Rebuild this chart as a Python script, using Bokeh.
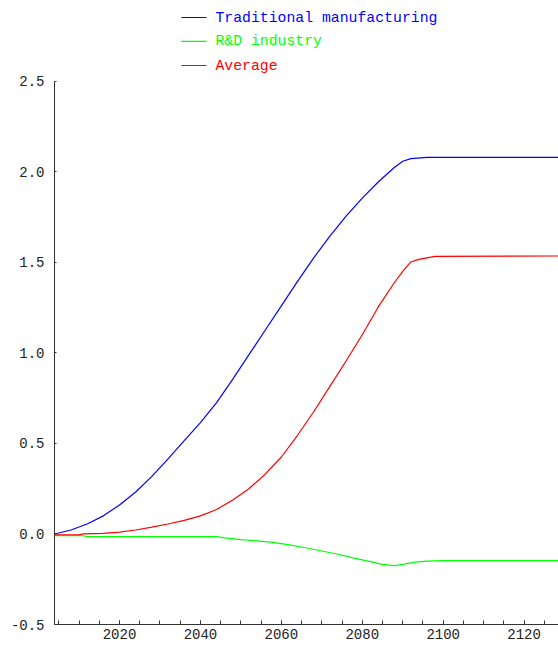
from bokeh.plotting import figure
from bokeh.models import Range1d, SingleIntervalTicker, FixedTicker, PrintfTickFormatter
from bokeh.core.properties import value
from bokeh.embed import file_html
from bokeh.resources import INLINE

# ---- data ----
trad_years = [2004, 2008, 2012, 2016, 2020, 2024, 2028, 2032, 2036, 2040, 2044, 2048,
              2052, 2056, 2060, 2064, 2068, 2072, 2076, 2080, 2084, 2088, 2090, 2092,
              2096, 2129]
trad_vals = [0.0, 0.022, 0.055, 0.1, 0.16, 0.232, 0.318, 0.415, 0.515, 0.615, 0.725, 0.855,
             0.99, 1.125, 1.26, 1.395, 1.525, 1.645, 1.755, 1.855, 1.945, 2.025, 2.058, 2.073,
             2.08, 2.08]

rd_years = [2004, 2011, 2012, 2044, 2046, 2050, 2054, 2058, 2062, 2066, 2070, 2074,
            2078, 2082, 2085, 2088, 2090, 2093, 2096, 2100, 2129]
rd_vals = [-0.01, -0.01, -0.015, -0.015, -0.022, -0.031, -0.038, -0.046, -0.06, -0.076,
           -0.094, -0.112, -0.133, -0.153, -0.168, -0.175, -0.168, -0.156, -0.15, -0.147,
           -0.147]

avg_years = [2004, 2010, 2011, 2016, 2020, 2024, 2028, 2032, 2036, 2040, 2044, 2048,
             2052, 2056, 2060, 2064, 2068, 2072, 2076, 2080, 2084, 2088, 2090, 2092,
             2094, 2098, 2129]
avg_vals = [-0.005, -0.005, 0.0, 0.003, 0.01, 0.022, 0.038, 0.055, 0.075, 0.1, 0.135, 0.188,
            0.25, 0.33, 0.425, 0.545, 0.675, 0.815, 0.955, 1.1, 1.255, 1.39, 1.45, 1.502,
            1.516, 1.533, 1.535]

series_names = ["Traditional manufacturing", "R&D industry", "Average"]
series_colors = ["#0000ff", "#00ff00", "#ff0000"]
y_ticks = [-0.5, 0.0, 0.5, 1.0, 1.5, 2.0, 2.5]

FONT = "Liberation Mono"

p = figure(width=558, height=646, output_backend="svg", toolbar_location=None,
           x_range=Range1d(2003.93, 2128.5), y_range=Range1d(-0.5, 2.946),
           min_border_left=54, min_border_right=0, min_border_top=0, min_border_bottom=22)
p.outline_line_color = None
p.xgrid.visible = False
p.ygrid.visible = False
p.background_fill_color = "white"
p.border_fill_color = "white"

# curves
p.line(trad_years, trad_vals, line_color=series_colors[0], line_width=1.2)
p.line(rd_years, rd_vals, line_color=series_colors[1], line_width=1.2)
p.line(avg_years, avg_vals, line_color=series_colors[2], line_width=1.2)

# legend (drawn manually so each label keeps its own colour)
leg_x0, leg_x1, leg_tx = 2035.3, 2041.5, 2043.7
leg_y = [2.852, 2.72, 2.587]
for name, col, yy in zip(series_names, series_colors, leg_y):
    p.segment(x0=[leg_x0], y0=[yy], x1=[leg_x1], y1=[yy], line_color=col, line_width=1.2)
    p.text(x=[leg_tx], y=[yy], text=[name], text_color=col,
           text_font=value(FONT), text_font_size="14.8px",
           text_baseline="middle", text_align="left")

# x axis
xa = p.xaxis[0]
xa.ticker = SingleIntervalTicker(interval=20, num_minor_ticks=4)
xa.axis_line_color = "#333333"
xa.major_tick_line_color = "#333333"
xa.minor_tick_line_color = "#333333"
xa.major_tick_in = 4
xa.major_tick_out = 0
xa.minor_tick_in = 4
xa.minor_tick_out = 0
xa.major_label_standoff = 4
xa.major_label_text_font = FONT
xa.major_label_text_font_size = "14px"
xa.major_label_text_color = "#222222"

# y axis
ya = p.yaxis[0]
ya.ticker = FixedTicker(ticks=y_ticks)
ya.bounds = (-0.5, 2.5)
ya.formatter = PrintfTickFormatter(format="%.1f")
ya.axis_line_color = "#333333"
ya.major_tick_line_color = "#333333"
ya.major_tick_in = 2
ya.major_tick_out = 0
ya.minor_tick_line_color = None
ya.major_label_standoff = 10
ya.major_label_text_font = FONT
ya.major_label_text_font_size = "14px"
ya.major_label_text_color = "#222222"

open("out.html", "w").write(file_html(p, INLINE))
